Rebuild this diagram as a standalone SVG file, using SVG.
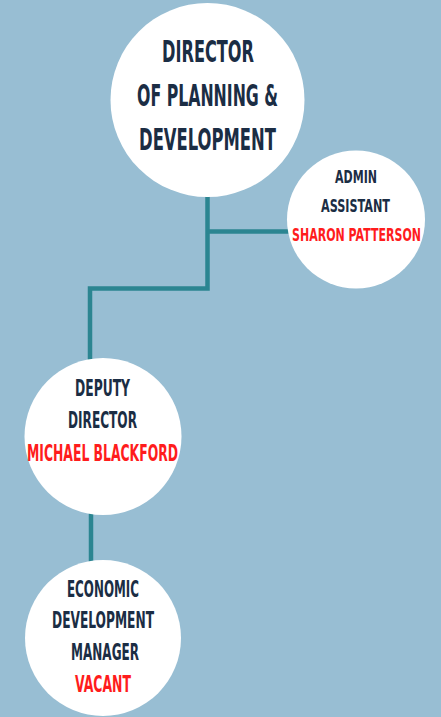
<svg xmlns="http://www.w3.org/2000/svg" width="441" height="717" viewBox="0 0 441 717">
<style>
.c{fill:#ffffff}
.t{font-family:"DejaVu Sans","Liberation Sans",sans-serif;font-weight:bold;font-stretch:condensed;text-anchor:middle;fill:#1b2d44}
.r{fill:#ff1c1c}
.l{fill:none;stroke:#2b8591;stroke-width:4.5;stroke-linejoin:miter}
</style>
<rect width="441" height="717" fill="#98bed3"/>
<g id="connectors">
<path class="l" d="M207.5 190 V288.5 H90 V365"/>
<path class="l" d="M207.5 231.5 H292"/>
<path class="l" d="M91 510 V565"/>
</g>
<g id="director">
<circle class="c" cx="207.5" cy="100" r="97"/>
<text class="t" x="208" y="62" font-size="31" textLength="92" lengthAdjust="spacingAndGlyphs">DIRECTOR</text>
<text class="t" x="207.5" y="106" font-size="31" textLength="141" lengthAdjust="spacingAndGlyphs">OF PLANNING &amp;</text>
<text class="t" x="207.5" y="150" font-size="31" textLength="137" lengthAdjust="spacingAndGlyphs">DEVELOPMENT</text>
</g>
<g id="admin">
<circle class="c" cx="356" cy="219.5" r="69"/>
<text class="t" x="356" y="183" font-size="18" textLength="42" lengthAdjust="spacingAndGlyphs">ADMIN</text>
<text class="t" x="355.5" y="212" font-size="18" textLength="69" lengthAdjust="spacingAndGlyphs">ASSISTANT</text>
<text class="t r" x="356.5" y="241" font-size="18" textLength="129" lengthAdjust="spacingAndGlyphs">SHARON PATTERSON</text>
</g>
<g id="deputy">
<circle class="c" cx="103" cy="436.5" r="78.5"/>
<text class="t" x="102.5" y="396" font-size="23" textLength="55" lengthAdjust="spacingAndGlyphs">DEPUTY</text>
<text class="t" x="102.5" y="428" font-size="23" textLength="69" lengthAdjust="spacingAndGlyphs">DIRECTOR</text>
<text class="t r" x="102.5" y="461" font-size="23" textLength="151" lengthAdjust="spacingAndGlyphs">MICHAEL BLACKFORD</text>
</g>
<g id="economic">
<circle class="c" cx="103" cy="638" r="78"/>
<text class="t" x="103" y="597" font-size="23" textLength="72" lengthAdjust="spacingAndGlyphs">ECONOMIC</text>
<text class="t" x="103" y="628" font-size="23" textLength="102" lengthAdjust="spacingAndGlyphs">DEVELOPMENT</text>
<text class="t" x="105" y="660" font-size="23" textLength="68" lengthAdjust="spacingAndGlyphs">MANAGER</text>
<text class="t r" x="103" y="692" font-size="23" textLength="56" lengthAdjust="spacingAndGlyphs">VACANT</text>
</g>
</svg>
